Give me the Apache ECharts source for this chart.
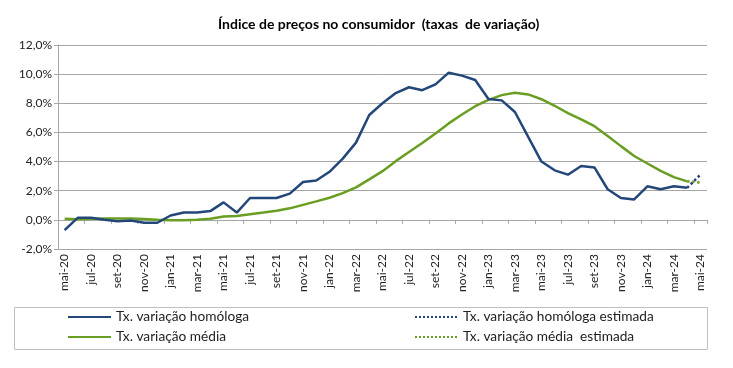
<!DOCTYPE html>
<html>
<head>
<meta charset="utf-8">
<script src="https://cdn.jsdelivr.net/npm/echarts@6/dist/echarts.min.js"></script>
<style>html,body{margin:0;padding:0;background:#fff}#c{width:733px;height:368px}</style>
</head>
<body>
<div id="c"></div>
<script>
const categories = ['mai-20','jun-20','jul-20','ago-20','set-20','out-20','nov-20','dez-20',
  'jan-21','fev-21','mar-21','abr-21','mai-21','jun-21','jul-21','ago-21','set-21','out-21','nov-21','dez-21',
  'jan-22','fev-22','mar-22','abr-22','mai-22','jun-22','jul-22','ago-22','set-22','out-22','nov-22','dez-22',
  'jan-23','fev-23','mar-23','abr-23','mai-23','jun-23','jul-23','ago-23','set-23','out-23','nov-23','dez-23',
  'jan-24','fev-24','mar-24','abr-24','mai-24'];
const homologa = [-0.7,0.15,0.15,0.0,-0.1,-0.05,-0.2,-0.2,
  0.3,0.5,0.5,0.6,1.2,0.5,1.5,1.5,1.5,1.8,2.6,2.7,
  3.3,4.2,5.3,7.2,8.0,8.7,9.1,8.9,9.3,10.1,9.9,9.6,
  8.3,8.2,7.4,5.7,4.0,3.4,3.1,3.7,3.6,2.1,1.5,1.4,
  2.3,2.1,2.3,2.2];
const media = [0.07,0.05,0.08,0.09,0.09,0.09,0.06,0.01,
  -0.03,-0.03,0.01,0.08,0.23,0.26,0.38,0.50,0.63,0.79,1.03,1.27,
  1.52,1.83,2.23,2.78,3.34,4.03,4.66,5.28,5.93,6.62,7.23,7.80,
  8.23,8.56,8.73,8.61,8.28,7.83,7.33,6.90,6.43,5.76,5.06,4.38,
  3.87,3.36,2.93,2.64];
const estCategories = ['abr-24','mai-24'];
const homologaEst = [2.2, 3.1];
const mediaEst = [2.64, 2.56];
const yTicks = {min: -2, max: 12, step: 2};
const names = ['Tx. variação homóloga','Tx. variação média','Tx. variação homóloga estimada','Tx. variação média  estimada'];

function pad(cats, vals) {
  const arr = categories.map(() => null);
  cats.forEach((c, i) => { arr[categories.indexOf(c)] = vals[i]; });
  return arr;
}

const BLUE = '#24477a', GREEN = '#6a9e22', GRID = '#a6a6a6';
const FONT = 'Lato';
const legendBase = {
  orient: 'vertical', top: 305, itemGap: 6,
  itemWidth: 43, itemHeight: 14,
  itemStyle: {opacity: 0},
  textStyle: {fontSize: 13.7, color: '#222', fontFamily: FONT}
};
const chart = echarts.init(document.getElementById('c'));
chart.setOption({
  animation: false,
  backgroundColor: '#fff',
  textStyle: {fontFamily: FONT},
  title: {
    text: 'Índice de preços no consumidor  (taxas  de variação)',
    left: 213, top: 12,
    textStyle: {fontFamily: FONT, fontSize: 14, fontWeight: 'bold', color: '#000'}
  },
  grid: {left: 58, right: 26, top: 45, bottom: 119, containLabel: false},
  xAxis: [{
    type: 'category', data: categories, boundaryGap: true, position: 'bottom',
    axisLine: {show: false, onZero: false},
    axisTick: {show: false},
    axisLabel: {interval: 1, rotate: 90, fontSize: 12, color: '#222', margin: 5, fontFamily: FONT},
    splitLine: {show: false}
  }, {
    type: 'category', data: categories, boundaryGap: true, position: 'bottom',
    axisLine: {show: true, onZero: true, lineStyle: {color: GRID, width: 1}},
    axisTick: {show: true, interval: 1, length: 4, lineStyle: {color: GRID}},
    axisLabel: {show: false},
    splitLine: {show: false}
  }],
  yAxis: {
    type: 'value', min: yTicks.min, max: yTicks.max, interval: yTicks.step,
    axisLine: {show: true, lineStyle: {color: GRID}},
    axisTick: {show: true, length: 4, lineStyle: {color: GRID}},
    axisLabel: {fontSize: 12, color: '#222', margin: 6, fontFamily: FONT,
      formatter: v => v.toFixed(1).replace('.', ',') + '%'},
    splitLine: {show: true, lineStyle: {color: GRID, width: 1}}
  },
  legend: [
    Object.assign({}, legendBase, {left: 62, data: [names[0], names[1]]}),
    Object.assign({}, legendBase, {left: 409, data: [names[2], names[3]]})
  ],
  graphic: [{
    type: 'rect', left: 12, top: 305, z: -1,
    shape: {width: 693, height: 42},
    style: {fill: 'none', stroke: '#c0c0c0', lineWidth: 1}
  }],
  series: [{
    name: names[0], type: 'line', data: homologa, symbol: 'none',
    lineStyle: {color: BLUE, width: 2.5}, itemStyle: {color: BLUE}, z: 3
  }, {
    name: names[1], type: 'line', data: media, symbol: 'none',
    lineStyle: {color: GREEN, width: 2.5}, itemStyle: {color: GREEN}, z: 2
  }, {
    name: names[2], type: 'line', data: pad(estCategories, homologaEst), symbol: 'none',
    lineStyle: {color: BLUE, width: 2.5, type: 'dotted'}, itemStyle: {color: BLUE}, z: 3
  }, {
    name: names[3], type: 'line', data: pad(estCategories, mediaEst), symbol: 'none',
    lineStyle: {color: GREEN, width: 2.5, type: 'dotted'}, itemStyle: {color: GREEN}, z: 2
  }]
});
</script>
</body>
</html>
